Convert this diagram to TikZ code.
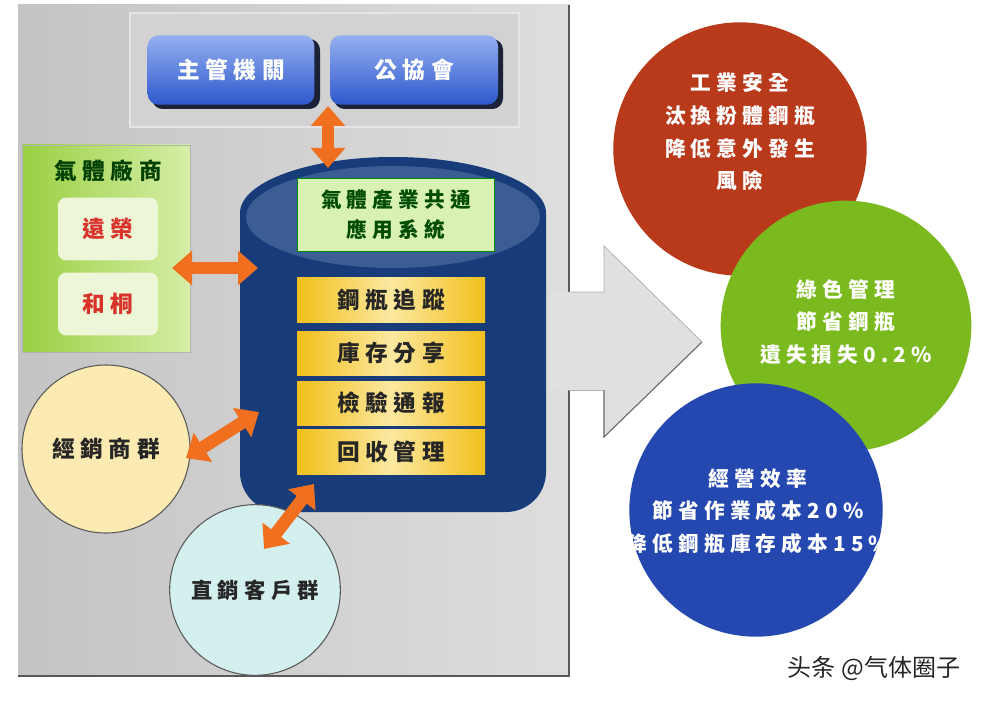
\documentclass[tikz,border=0pt]{standalone}
\usepackage{fontspec}
\usetikzlibrary{arrows.meta}
\newfontfamily\tcfont[LetterSpace=25]{Noto Sans CJK TC}
\newfontfamily\scfont{Noto Sans CJK SC}
\definecolor{panelL}{HTML}{C4C4C4}
\definecolor{panelR}{HTML}{DEDEDE}
\definecolor{inset}{HTML}{D2D2D2}
\definecolor{btnTop}{HTML}{95B0F0}
\definecolor{btnBot}{HTML}{2E58CC}
\definecolor{btnShadow}{HTML}{1B2238}
\definecolor{navy}{HTML}{183B79}
\definecolor{cyltop}{HTML}{3C5D93}
\definecolor{boxgreen}{HTML}{D9F2B4}
\definecolor{gold}{HTML}{F2C01C}
\definecolor{goldlight}{HTML}{FCE8A0}
\definecolor{panelgreenA}{HTML}{9AD043}
\definecolor{panelgreenB}{HTML}{D6EEA6}
\definecolor{innerbox}{HTML}{EEF6D8}
\definecolor{redtext}{HTML}{D8322A}
\definecolor{orangearrow}{HTML}{F07020}
\definecolor{yellowc}{HTML}{FBEAB2}
\definecolor{cyanc}{HTML}{D3F0EE}
\definecolor{redc}{HTML}{B9391B}
\definecolor{greenc}{HTML}{7BBA1F}
\definecolor{bluec}{HTML}{2447B0}
\definecolor{darktext}{HTML}{262626}
\definecolor{arrowgray}{HTML}{E0E0E0}
\tikzset{
  cjk/.style={font=\tcfont\bfseries\fontsize{#1}{#1}\selectfont},
  btn/.style={rounded corners=8pt, top color=btnTop, bottom color=btnBot, draw=none},
  btnshadow/.style={rounded corners=8pt, fill=btnShadow},
  goldbox/.style={left color=gold, right color=gold, middle color=goldlight},
  oarr/.style={draw=orangearrow, line width=9.5pt,
    {Triangle[length=15pt,width=25pt]}-{Triangle[length=15pt,width=25pt]}},
  bigcirc/.style={circle, minimum size=#1, inner sep=0pt},
  circtext/.style={text=white, align=center, font=\tcfont\bfseries\fontsize{15.5}{24.5}\selectfont},
}
\begin{document}
\begin{tikzpicture}[x=0.75pt,y=-0.75pt]
\useasboundingbox (0,0) rectangle (984,702);
\fill[white] (0,0) rectangle (984,702);

% main gray panel
\fill[left color=panelL, right color=panelR] (18,5) rectangle (569,676);
\draw[gray!70!black, line width=1pt] (18,676) -- (569,676) -- (569,5);
% top inset
\fill[inset] (130,13) rectangle (519,127);
\draw[white!80!gray, line width=0.8pt] (130,13) rectangle (519,127);

% buttons
\fill[btnshadow] (152,39) rectangle (320,109);
\node[btn, minimum width=125pt, minimum height=52pt, text=white, cjk=17] (gov) at (231,70) {主管機關};
\fill[btnshadow] (334,39) rectangle (503,109);
\node[btn, minimum width=126pt, minimum height=52pt, text=white, cjk=17] (assoc) at (414,70) {公協會};

% green panel: gas suppliers
\fill[left color=panelgreenA, right color=panelgreenB] (22,145) rectangle (190,352);
\draw[gray!60, line width=0.6pt] (22,145) rectangle (190,352);
\node[cjk=17, text=black!75!green] (gastitle) at (108,171) {氣體廠商};
\node[fill=innerbox, rounded corners=6pt, minimum width=75pt, minimum height=47pt, text=redtext, cjk=17] (yuanrong) at (108,229) {遠榮};
\node[fill=innerbox, rounded corners=6pt, minimum width=75pt, minimum height=47pt, text=redtext, cjk=17] (hetong) at (108,304) {和桐};

% cylinder
\fill[navy, rounded corners=30pt] (240,214) -- (240,512) -- (546,512) -- (546,214);
\fill[navy] (393,213) ellipse [x radius=153, y radius=56];
\fill[cyltop] (393,217) ellipse [x radius=147, y radius=51];
\node[fill=boxgreen, draw=black!45!green, line width=0.6pt, minimum width=148pt, minimum height=55pt,
  align=center, text=black!70!green, font=\tcfont\bfseries\fontsize{15.5}{22.5}\selectfont] (system) at (396,215) {氣體產業共通\\應用系統};
\node[goldbox, minimum width=141pt, minimum height=34pt, text=darktext, cjk=17] (track) at (391,300) {鋼瓶追蹤};
\node[goldbox, minimum width=141pt, minimum height=33pt, text=darktext, cjk=17] (stock) at (391,353) {庫存分享};
\node[goldbox, minimum width=141pt, minimum height=33pt, text=darktext, cjk=17] (inspect) at (391,403) {檢驗通報};
\node[goldbox, minimum width=141pt, minimum height=34pt, text=darktext, cjk=17] (recycle) at (391,452) {回收管理};

% circles on left
\node[bigcirc=126pt, fill=yellowc, draw=gray!70!black, line width=0.8pt, text=darktext, cjk=17] (dealer) at (106,449) {經銷商群};
\node[bigcirc=128pt, fill=cyanc, draw=gray!70!black, line width=0.8pt, text=darktext, cjk=16] (direct) at (255,590) {直銷客戶群};

% orange arrows
\coordinate (a1s) at (328,106);
\coordinate (a1e) at (328,168);
\coordinate (a2s) at (172,268);
\coordinate (a2e) at (258,268);
\coordinate (a3s) at (186,458);
\coordinate (a3e) at (259,412);
\coordinate (a4s) at (264,549);
\coordinate (a4e) at (314,484);
\draw[oarr] (a1s) -- (a1e);
\draw[oarr] (a2s) -- (a2e);
\draw[oarr] (a3s) -- (a3e);
\draw[oarr] (a4s) -- (a4e);

% big gray arrow
\fill[arrowgray] (549,292) -- (604,292) -- (604,246) -- (702,342) -- (604,437) -- (604,390) -- (549,390) -- cycle;
\draw[gray!80!black, line width=0.8pt] (702,342) -- (604,437) -- (604,390);
\draw[gray!60, line width=0.6pt] (569,292) -- (604,292) -- (604,246) -- (702,342);
\draw[gray!60, line width=0.6pt] (569,390) -- (604,390);

% result circles
\node[bigcirc=190pt, fill=redc] (safety) at (740,149) {};
\node[circtext] (safetytext) at (740,132) {工業安全\\汰換粉體鋼瓶\\降低意外發生\\風險};
\node[bigcirc=188pt, fill=greenc] (green) at (846,326) {};
\node[circtext] (greentext) at (846,322) {綠色管理\\節省鋼瓶\\遺失損失0.2\%};
\node[bigcirc=190pt, fill=bluec] (efficiency) at (756,510) {};
\node[circtext] (efftext) at (758,511) {經營效率\\節省作業成本20\%\\降低鋼瓶庫存成本15\%};

% watermark
\node[font=\scfont\fontsize{18}{18}\selectfont, text=darktext] (watermark) at (874,668) {头条 @气体圈子};
\end{tikzpicture}
\end{document}
